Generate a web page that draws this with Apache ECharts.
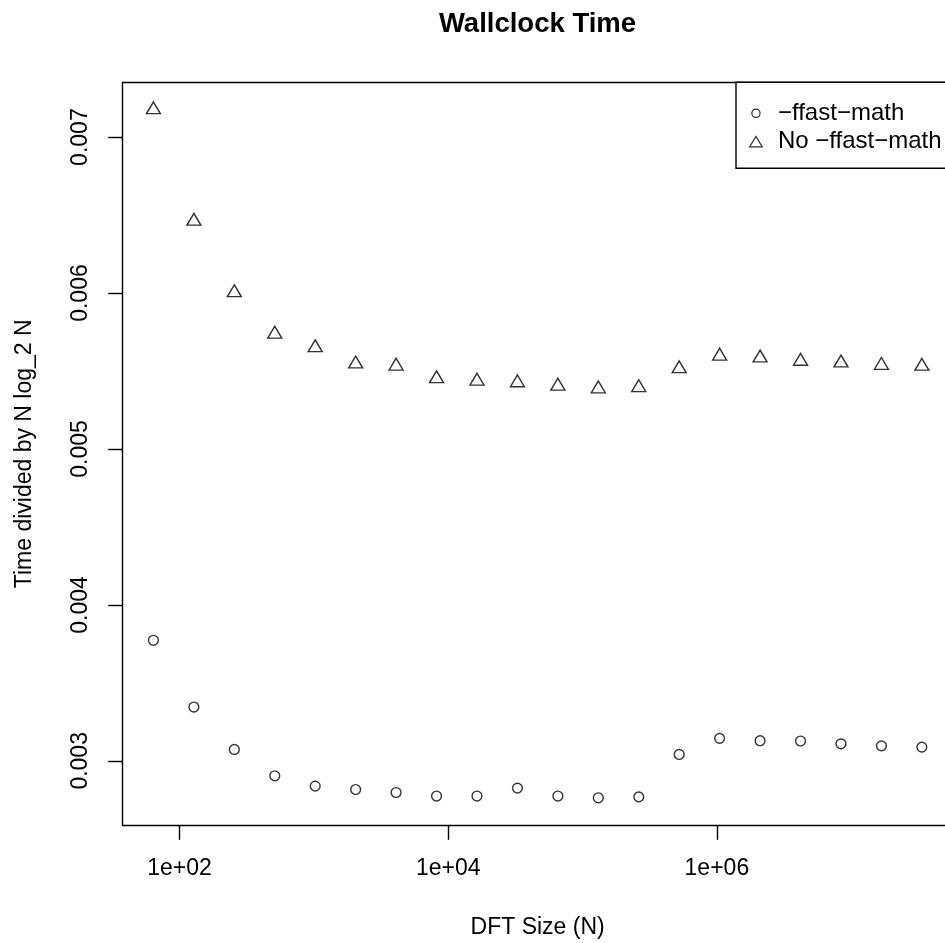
<!DOCTYPE html>
<html><head><meta charset="utf-8">
<script src="https://cdn.jsdelivr.net/npm/echarts@6/dist/echarts.min.js"></script>
<style>html,body{margin:0;padding:0;background:#fff}#c{width:945px;height:943px}</style>
</head><body><div id="c"></div><script>
// ---- data ----
const N = [64,128,256,512,1024,2048,4096,8192,16384,32768,65536,131072,262144,524288,1048576,2097152,4194304,8388608,16777216,33554432];
const fastMath = [0.003773,0.003345,0.003073,0.002904,0.002838,0.002816,0.002797,0.002774,0.002774,0.002825,0.002774,0.002763,0.002769,0.003041,0.003144,0.003129,0.003127,0.003109,0.003096,0.003088];
const noFastMath = [0.007175,0.006460,0.006002,0.005736,0.005649,0.005545,0.005531,0.005450,0.005435,0.005424,0.005403,0.005385,0.005393,0.005514,0.005595,0.005583,0.005562,0.005551,0.005536,0.005530];
const seriesNames = ['\u2212ffast\u2212math','No \u2212ffast\u2212math'];
const xTickValues = [1e2,1e4,1e6];
const xTickLabels = ['1e+02','1e+04','1e+06'];
const yTickValues = [0.003,0.004,0.005,0.006,0.007];
const yTickLabels = ['0.003','0.004','0.005','0.006','0.007'];
const titleText = 'Wallclock Time';
const xName = 'DFT Size (N)';
const yName = 'Time divided by N log_2 N';

// ---- R-style 4% range extension ----
const lx = N.map(v => Math.log10(v));
const lxMin = Math.min(...lx), lxMax = Math.max(...lx), lr = lxMax - lxMin;
const xMin = Math.pow(10, lxMin - 0.04 * lr), xMax = Math.pow(10, lxMax + 0.04 * lr);
const allY = fastMath.concat(noFastMath);
const yLo = Math.min(...allY), yHi = Math.max(...allY), yr = yHi - yLo;
const yMin = yLo - 0.04 * yr, yMax = yHi + 0.04 * yr;

const FONT = 'Liberation Sans';
const FS = 23;
const LINE = {color: '#000', width: 1.4};
const circleIcon = 'path://M0,0M12.7,10.5M2.2,5.25A4.15,4.15,0,1,1,10.5,5.25A4.15,4.15,0,1,1,2.2,5.25Z';
const triIcon = 'path://M6.35,0L12.7,10.5L0,10.5Z';

const chart = echarts.init(document.getElementById('c'), null, {renderer: 'canvas'});
chart.setOption({
  animation: false,
  backgroundColor: '#fff',
  title: {
    text: titleText, left: 537.5, top: 10, textAlign: 'center', padding: 0,
    textStyle: {fontFamily: FONT, fontSize: 27.5, fontWeight: 'bold', color: '#000'}
  },
  graphic: [{
    type: 'rect', z: 3, silent: true,
    shape: {x: 736, y: 82.3, width: 240, height: 86},
    style: {fill: '#fff', stroke: '#000', lineWidth: 1.4}
  }],
  legend: {
    left: 736, top: 82.3, orient: 'vertical', z: 10,
    padding: [19, 0, 16, 13], itemGap: 4.3, itemWidth: 34, itemHeight: 10.5,
    borderWidth: 0, backgroundColor: 'rgba(0,0,0,0)',
    selectedMode: false,
    data: [{name: seriesNames[0], icon: circleIcon}, {name: seriesNames[1], icon: triIcon}],
    itemStyle: {color: 'rgba(0,0,0,0)', borderColor: '#000', borderWidth: 1.2},
    textStyle: {fontFamily: FONT, fontSize: 24, color: '#000'}
  },
  grid: {
    left: 122.7, top: 82.3, width: 829.9, height: 743,
    outerBoundsMode: 'none', show: false, containLabel: false
  },
  xAxis: [{
    type: 'log', logBase: 10, min: xMin, max: xMax, position: 'bottom',
    name: xName, nameLocation: 'middle', nameGap: 91,
    nameTextStyle: {fontFamily: FONT, fontSize: FS, color: '#000'},
    axisLine: {show: true, onZero: false, lineStyle: LINE},
    axisTick: {show: true, customValues: xTickValues, length: 14.5, lineStyle: LINE},
    axisLabel: {customValues: xTickValues, margin: 32, fontFamily: FONT, fontSize: FS, color: '#000',
      formatter: v => { const i = xTickValues.findIndex(t => Math.abs(Math.log10(t) - Math.log10(v)) < 1e-6); return i >= 0 ? xTickLabels[i] : ''; }},
    splitLine: {show: false}, minorTick: {show: false}, minorSplitLine: {show: false}
  }, {
    type: 'log', logBase: 10, min: xMin, max: xMax, position: 'top',
    axisLine: {show: true, onZero: false, lineStyle: LINE},
    axisTick: {show: false}, axisLabel: {show: false},
    splitLine: {show: false}, minorTick: {show: false}
  }],
  yAxis: {
    type: 'value', min: yMin, max: yMax, position: 'left',
    name: yName, nameLocation: 'middle', nameGap: 87, nameRotate: 90,
    nameTextStyle: {fontFamily: FONT, fontSize: FS, color: '#000'},
    axisLine: {show: true, onZero: false, lineStyle: LINE},
    axisTick: {show: true, customValues: yTickValues, length: 14.5, lineStyle: LINE},
    axisLabel: {customValues: yTickValues, rotate: 90, margin: 31, fontFamily: FONT, fontSize: FS, color: '#000',
      formatter: v => { const i = yTickValues.findIndex(t => Math.abs(t - v) < 1e-9); return i >= 0 ? yTickLabels[i] : ''; }},
    splitLine: {show: false}
  },
  series: [
    {
      type: 'scatter', name: seriesNames[0], xAxisIndex: 0,
      data: N.map((n, i) => [n, fastMath[i]]),
      symbol: 'circle', symbolSize: 9.8,
      itemStyle: {color: 'rgba(0,0,0,0)', borderColor: '#000', borderWidth: 1.4},
      emphasis: {disabled: true}, silent: true
    },
    {
      type: 'scatter', name: seriesNames[1], xAxisIndex: 0,
      data: N.map((n, i) => [n, noFastMath[i]]),
      symbol: 'triangle', symbolSize: [14, 11.8], symbolOffset: [0, -2],
      itemStyle: {color: 'rgba(0,0,0,0)', borderColor: '#000', borderWidth: 1.4},
      emphasis: {disabled: true}, silent: true
    }
  ]
});
</script></body></html>
